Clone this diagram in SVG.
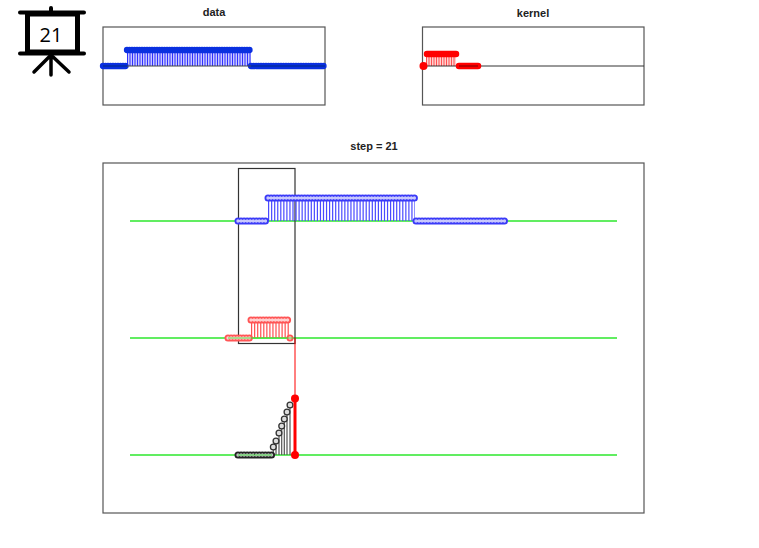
<svg xmlns="http://www.w3.org/2000/svg" width="759" height="548" viewBox="0 0 759 548">
<style>
text{font-family:"Liberation Sans",Arial,sans-serif;font-size:11px;font-weight:bold;fill:#222;text-anchor:middle}
.ax{fill:none;stroke:#555;stroke-width:1.2}
.win{fill:none;stroke:#333;stroke-width:1.2}
.g{stroke:#2ee82e;stroke-width:1.4;fill:none}
.ic{stroke:#000;fill:none;stroke-linecap:round}
.d1{stroke-dasharray:0 2.5;stroke-linecap:round;stroke-width:6.3;fill:none}
.d2{stroke-dasharray:0 3.05;stroke-linecap:round;fill:none}
.o{stroke-width:7}
.i{stroke-width:3.4;stroke:#fff;opacity:.72}
.st{fill:none;stroke-dasharray:1 1.5}
.st3{fill:none;stroke-dasharray:1.2 1.85}
</style>
<g id="icon">
<path class="ic" d="M51 8V12M20 12.500H84M20 53.500H84" stroke-width="4"/>
<rect x="27.500" y="14" width="50" height="38" fill="none" stroke="#000" stroke-width="5"/>
<path class="ic" d="M51 55V75M51 55L34 72M51 55L69 72" stroke-width="3.500"/>
<text x="51" y="42" style="font-family:'Open Sans','Noto Sans',sans-serif;font-size:20px;font-weight:normal;fill:#000">21</text>
</g>
<g id="data-plot">
<text x="214" y="16">data</text>
<rect class="ax" x="103" y="27" width="222" height="78"/>
<rect x="127" y="50" width="124" height="16" fill="#c8c8ff"/>
<path class="st" d="M127 58H251" stroke="#3030ff" stroke-width="16"/>
<path class="d1" stroke="#0a30e0" d="M103 66H127M127 50H251M251 66H325"/>
<path d="M103 66H127M251 66H325" stroke="#002a80" stroke-width="1"/>
<path d="M127 66H251" stroke="#444" stroke-width="1"/>
</g>
<g id="kernel-plot">
<text x="533" y="17">kernel</text>
<rect class="ax" x="422.500" y="27" width="221.500" height="78"/>
<rect x="426" y="54" width="30" height="12" fill="#ffd0d0"/>
<path class="st" d="M426 60H456" stroke="#ff5050" stroke-width="12"/>
<path d="M422.500 66H644" stroke="#333" stroke-width="1"/>
<path d="M427 54H456M459 66H478" stroke="#f00" stroke-width="6.500" stroke-linecap="round"/>
<circle cx="423.500" cy="66" r="4" fill="#f00"/>
<path d="M459 66H478" stroke="#700" stroke-width="1"/>
</g>
<g id="step-plot">
<text x="374" y="150">step = 21</text>
<rect class="ax" x="103" y="163" width="541" height="350"/>
<path class="g" d="M130 221H617M130 338H617M130 455H617"/>
<rect class="win" x="238.500" y="168.500" width="56.500" height="175"/>
<path class="st3" d="M268 209.500H415" stroke="#4a4aff" style="stroke-width:23"/>
<path class="d2 o" stroke="#3a3af8" d="M238 221H266M268 198H415M416 221H505"/>
<path class="d2 i" d="M238 221H266M268 198H415M416 221H505"/>
<path class="st3" d="M251 329H289" stroke="#ff5050" style="stroke-width:18"/>
<path class="d2 o" stroke="#f55" d="M228 338H250M251 320H289M290 338H293"/>
<path class="d2 i" d="M228 338H250M251 320H289M290 338H293"/>
<path d="M228 338H293" stroke="#2ee82e" stroke-width=".8"/>
<path d="M295 338V398" stroke="#f00" stroke-width="1"/>
<path d="M273.300 455V447M276 455V441M279 455V433M281.700 455V426M284.300 455V419M287 455V412M290 455V405" stroke="#555" stroke-width="1.200"/>
<path class="d2 o" stroke="#222" d="M238 455H272"/>
<path class="d2 i" d="M238 455H272"/>
<path d="M238 455H272" stroke="#2ee82e" stroke-width=".8"/>
<g fill="#ddd" stroke="#333" stroke-width="1.300">
<circle cx="273.300" cy="447" r="2.900"/><circle cx="276" cy="441" r="2.900"/><circle cx="279" cy="433" r="2.900"/><circle cx="281.700" cy="426" r="2.900"/><circle cx="284.300" cy="419" r="2.900"/><circle cx="287" cy="412" r="2.900"/><circle cx="290" cy="405" r="2.900"/>
</g>
<path d="M295 398V455" stroke="#f00" stroke-width="3"/>
<circle cx="295" cy="398.500" r="4" fill="#f00"/>
<circle cx="295" cy="455" r="4" fill="#f00"/>
</g>
</svg>
